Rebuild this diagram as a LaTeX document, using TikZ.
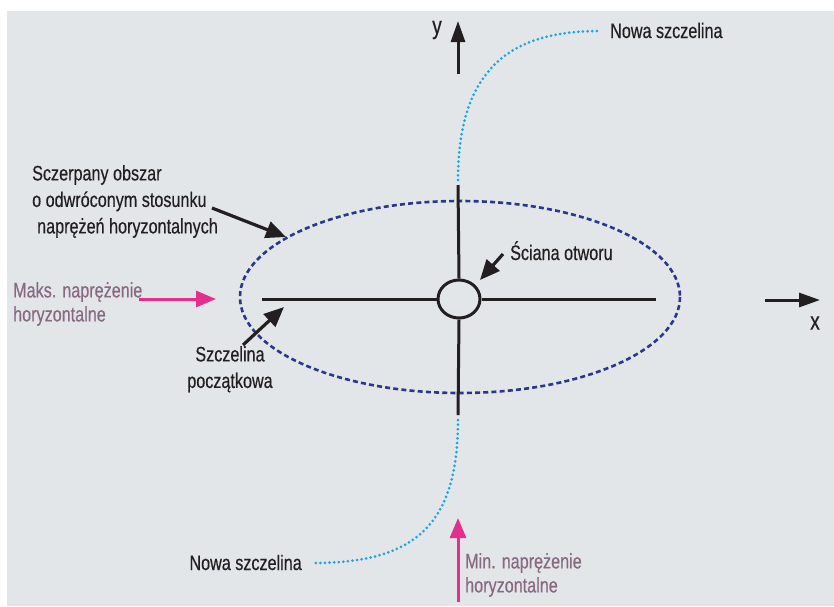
\documentclass[tikz,border=0pt]{standalone}
\usepackage{fontspec}
\setmainfont{Liberation Sans}[FakeStretch=0.77,FakeBold=0.4]
\usetikzlibrary{arrows.meta,shapes.geometric}
\definecolor{bgcol}{RGB}{227,230,233}
\definecolor{ink}{RGB}{35,31,32}
\definecolor{navy}{RGB}{40,56,140}
\definecolor{cyanc}{RGB}{30,165,222}
\definecolor{pinkc}{RGB}{228,48,140}
\definecolor{mauve}{RGB}{135,105,130}
\tikzset{
  lbl/.style={font=\fontsize{21}{26.5}\selectfont, text=ink, inner sep=0pt},
  plbl/.style={font=\fontsize{21}{24}\selectfont, text=mauve, inner sep=0pt},
  crack/.style={draw=ink, line width=3},
  blackarrow/.style={draw=ink, line width=3.2, -{Triangle[length=20,width=17]}},
  pinkarrow/.style={draw=pinkc, line width=3, -{Triangle[length=20,width=16]}},
  axisarrow/.style={draw=ink, line width=3, -{Triangle[length=21,width=14]}},
  newcrack/.style={draw=cyanc, line width=3, line cap=round, dash pattern=on 0pt off 4.6pt},
  zone/.style={draw=navy, line width=2.6, dash pattern=on 5pt off 3.2pt},
}
\begin{document}
\begin{tikzpicture}[x=1pt,y=-1pt]
\useasboundingbox (0,0) rectangle (834,606);
\fill[bgcol] (7,11) rectangle (834,606);

% depleted zone
\draw[zone] (460,297) ellipse [x radius=220, y radius=96];

% initial crack
\coordinate (hl) at (262,299);
\coordinate (hr) at (656,299);
\coordinate (vt) at (458,185);
\coordinate (vb) at (458,415);
\node[draw=ink, line width=3, ellipse, minimum width=42, minimum height=38, inner sep=0, fill=bgcol] (hole) at (459,299) {};
\draw[crack] (hl) -- (hole.west);
\draw[crack] (hole.east) -- (hr);
\draw[crack] (vt) -- (hole.north);
\draw[crack] (hole.south) -- (vb);

% new cracks
\node[lbl, anchor=base west] (ntop) at (610,38) {Nowa szczelina};
\node[lbl, anchor=base east] (nbot) at (302,570) {Nowa szczelina};
\coordinate (ct) at (458,180);
\coordinate (cb) at (458,420);
\draw[newcrack] (ct) .. controls (458,60) and (520,31) .. ([xshift=-10]ntop.west |- 0,31);
\draw[newcrack] (cb) .. controls (458,530) and (410,563) .. ([xshift=10]nbot.east |- 0,563);

% axes
\coordinate (y0) at (458,74);
\coordinate (y1) at (458,21);
\draw[axisarrow] (y0) -- (y1);
\node[lbl, font=\fontsize{25}{26}\selectfont] (ylab) at (437,30) {y};
\coordinate (x0) at (765,300);
\coordinate (x1) at (820,300);
\draw[axisarrow] (x0) -- (x1);
\node[lbl, font=\fontsize{25}{26}\selectfont] (xlab) at (815,323) {x};

% depleted zone label
\node[lbl, anchor=north west, align=left] (zlab) at (32,165) {Sczerpany obszar\\o odwróconym stosunku\\\hspace*{5pt}naprężeń horyzontalnych};
\coordinate (za) at (212,208);
\coordinate (zb) at (286,237);
\draw[blackarrow] (za) -- (zb);

% initial crack label
\node[lbl, align=center, anchor=north] (slab) at (230,346) {Szczelina\\początkowa};
\coordinate (sa) at (243,345);
\coordinate (sb) at (284,307);
\draw[blackarrow] (sa) -- (sb);

% wall label
\node[lbl, anchor=base west] (wlab) at (510,260) {Ściana otworu};
\coordinate (wa) at (503,254);
\coordinate (wb) at (480,280);
\draw[blackarrow] (wa) -- (wb);

% stresses
\node[plbl, anchor=north west, align=left] (maxlab) at (13,282) {Maks. naprężenie\\horyzontalne};
\coordinate (ma) at (139,299);
\coordinate (mb) at (216,299);
\draw[pinkarrow] (ma) -- (mb);
\node[plbl, anchor=north west, align=left] (minlab) at (465,553) {Min. naprężenie\\horyzontalne};
\coordinate (na) at (458,602);
\coordinate (nb) at (458,518);
\draw[pinkarrow] (na) -- (nb);
\end{tikzpicture}
\end{document}
